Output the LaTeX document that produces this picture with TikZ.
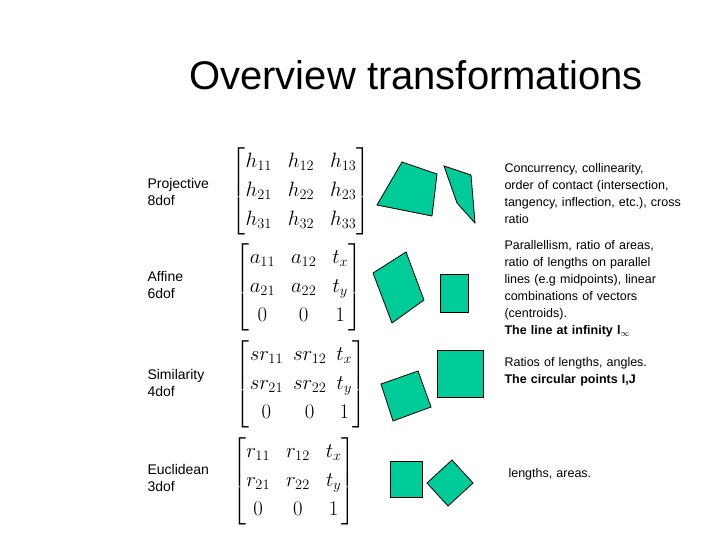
\documentclass[tikz,border=0pt]{standalone}
\usepackage{amsmath}
\usepackage{fontspec}
\setmainfont{Liberation Sans}
\begin{document}
\begin{tikzpicture}[x=1pt,y=-1pt,
  lab/.style={anchor=west,align=left,font=\fontsize{14}{17}\selectfont},
  desc/.style={anchor=west,align=left,text width=184pt,font={\fontsize{12.5}{17}\selectfont\hyphenpenalty=10000\relax}},
  mat/.style={anchor=center,font=\fontsize{19.5}{20}\selectfont},
  shp/.style={fill={rgb,255:red,0;green,204;blue,153},draw=black,line width=0.8pt}]
\useasboundingbox (0,0) rectangle (720,540);
\setlength{\arraycolsep}{8pt}
\def\arraystretch{1.45}
\node (title) at (416,75) {\fontsize{40}{44}\selectfont Overview transformations};
\node[lab] (l1) at (144,192) {Projective\\8dof};
\node[lab] (l2) at (144,285) {Affine\\6dof};
\node[lab] (l3) at (144,383) {Similarity\\4dof};
\node[lab] (l4) at (144,478) {Euclidean\\3dof};
\node[mat] (m1) at (301,191) {$\begin{bmatrix} h_{11}&h_{12}&h_{13}\\ h_{21}&h_{22}&h_{23}\\ h_{31}&h_{32}&h_{33}\end{bmatrix}$};
\node[mat] (m2) at (299,287) {$\begin{bmatrix} a_{11}&a_{12}&t_x\\ a_{21}&a_{22}&t_y\\ 0&0&1\end{bmatrix}$};
\node[mat] (m3) at (301,384) {$\setlength{\arraycolsep}{5pt}\begin{bmatrix} sr_{11}&sr_{12}&t_x\\ sr_{21}&sr_{22}&t_y\\ 0&0&1\end{bmatrix}$};
\node[mat] (m4) at (294,481) {$\begin{bmatrix} r_{11}&r_{12}&t_x\\ r_{21}&r_{22}&t_y\\ 0&0&1\end{bmatrix}$};
\filldraw[shp] (402,162)--(437,174)--(432,216)--(377,205)--cycle;
\filldraw[shp] (444,166)--(471,175)--(475,223)--(457,203)--cycle;
\filldraw[shp] (406,252)--(424,300)--(392,323)--(373,273)--cycle;
\filldraw[shp] (440,274) rectangle (468,312);
\filldraw[shp] (381,384)--(418,371)--(431,407)--(393,421)--cycle;
\filldraw[shp] (437,350) rectangle (483,397);
\filldraw[shp] (390,461) rectangle (422,497);
\filldraw[shp] (452,460)--(473,483)--(448,506)--(427,483)--cycle;
\node[desc] (d1) at (501,194) {Concurrency, collinearity, order of contact (intersection, tangency, inflection, etc.), cross ratio};
\node[desc,text width=176pt] (d2) at (501,289) {Parallellism, ratio of areas, ratio of lengths on parallel lines (e.g midpoints), linear combinations of vectors (centroids).\\\textbf{The line at infinity l$_\infty$}};
\node[desc] (d3) at (501,372) {Ratios of lengths, angles.\\\textbf{The circular points I,J}};
\node[desc] (d4) at (505,474) {lengths, areas.};
\end{tikzpicture}
\end{document}
